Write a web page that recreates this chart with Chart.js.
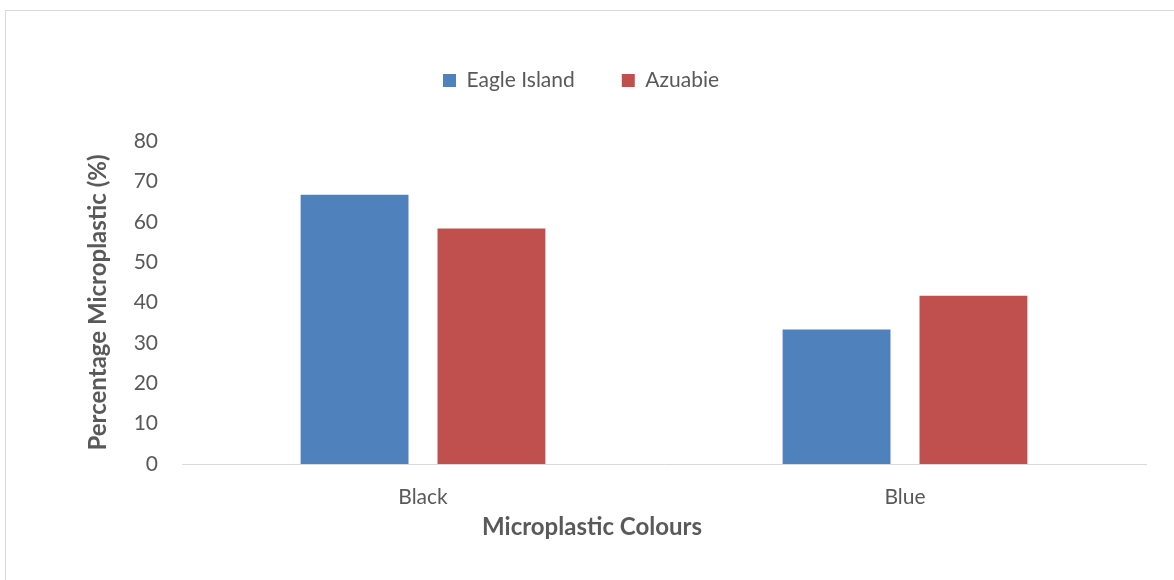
<!DOCTYPE html>
<html>
<head>
<meta charset="utf-8">
<script src="https://cdn.jsdelivr.net/npm/chart.js@4.4.1/dist/chart.umd.min.js"></script>
<style>
  html, body { margin: 0; padding: 0; background: #fff; overflow: hidden; }
  #frame { position: absolute; left: 5px; top: 10px; width: 1200px; height: 600px; border: 1px solid #d9d9d9; }
  #wrap { position: absolute; left: 0; top: 0; width: 1174px; height: 580px; }
</style>
</head>
<body>
<div id="frame"></div>
<div id="wrap"><canvas id="chart" width="1174" height="580"></canvas></div>
<script>
// Share of microplastic particles by colour at each sampling site
const categories = ['Black', 'Blue'];
const eagleIsland = [66.7, 33.3];
const azuabie = [58.3, 41.7];
const yTicks = [0, 10, 20, 30, 40, 50, 60, 70, 80];

const FONT = 'Lato, "Open Sans", sans-serif';
const TEXT = '#595959';

// Extra room below the legend row, and a small nudge of the row to the right
const legendSpacer = {
  id: 'legendSpacer',
  afterInit(chart) {
    const legend = chart.legend;
    const fit = legend.fit;
    legend.fit = function () {
      fit.call(this);
      this.height += 40;
    };
  },
  afterLayout(chart) {
    chart.legend.left += 8;
    chart.legend.right += 8;
  }
};

// Horizontal axis title
const xTitle = {
  id: 'xTitle',
  afterDraw(chart) {
    const ctx = chart.ctx;
    ctx.save();
    ctx.font = 'bold 24px ' + FONT;
    ctx.fillStyle = TEXT;
    ctx.textAlign = 'center';
    ctx.textBaseline = 'middle';
    ctx.fillText('Microplastic Colours', 592, 527);
    ctx.restore();
  }
};

new Chart(document.getElementById('chart'), {
  type: 'bar',
  data: {
    labels: categories,
    datasets: [
      { label: 'Eagle Island', data: eagleIsland, backgroundColor: '#4f81bd', borderWidth: 0 },
      { label: 'Azuabie', data: azuabie, backgroundColor: '#c0504d', borderWidth: 0 }
    ]
  },
  options: {
    responsive: false,
    animation: false,
    events: [],
    categoryPercentage: 0.568,
    barPercentage: 0.788,
    layout: { padding: { top: 23, right: 28, bottom: 0, left: 0 } },
    plugins: {
      tooltip: { enabled: false },
      legend: {
        position: 'top',
        labels: {
          boxWidth: 13,
          boxHeight: 13,
          padding: 47,
          color: TEXT,
          font: { family: FONT, size: 21 }
        }
      }
    },
    scales: {
      x: {
        grid: { display: false },
        border: { display: true, color: '#d9d9d9', width: 1 },
        ticks: { color: TEXT, font: { family: FONT, size: 21 }, padding: 13 },
        afterFit(scale) { scale.height = 116; }
      },
      y: {
        min: 0,
        max: 80,
        grid: { display: false },
        border: { display: false },
        afterBuildTicks(scale) { scale.ticks = yTicks.map(v => ({ value: v })); },
        ticks: { color: TEXT, font: { family: FONT, size: 21 }, padding: 16 },
        title: {
          display: true,
          text: 'Percentage Microplastic (%)',
          color: TEXT,
          font: { family: FONT, size: 24, weight: 'bold' },
          padding: { top: 84, bottom: 0 }
        },
        afterFit(scale) { scale.width = 182; }
      }
    }
  },
  plugins: [legendSpacer, xTitle]
});
</script>
</body>
</html>
